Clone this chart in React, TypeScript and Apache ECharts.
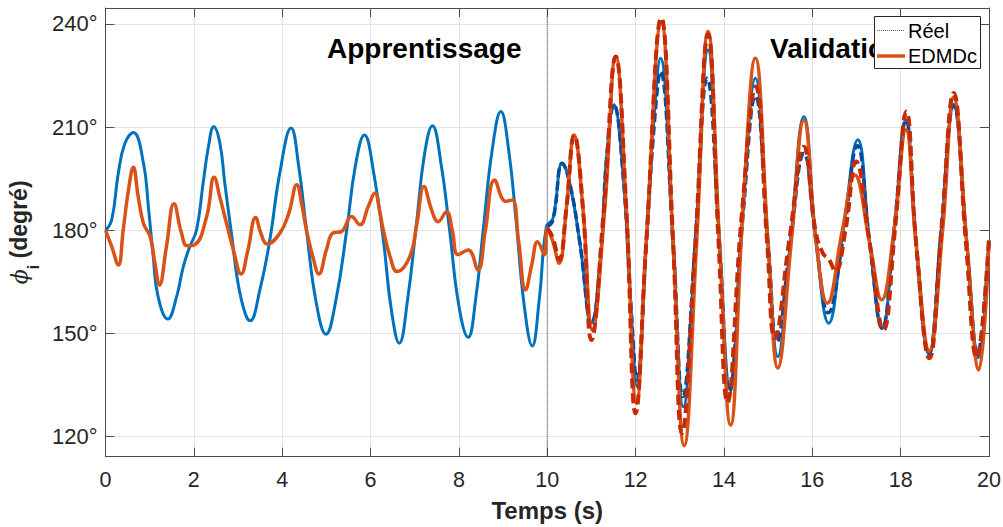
import React, { useEffect, useRef } from "react";
import * as echarts from "echarts";

// Angle phi_i (degrees) versus time (s): learning phase 0–10 s, validation phase 10–20 s.
const courbeBleue: [number, number][] = [
  [0, 180], [0.14, 183], [0.29, 196.6], [0.44, 205.3], [0.63, 208.4], [0.86, 199.5], [0.97, 186.9],
  [1.08, 172.4], [1.19, 160.7], [1.41, 154.2], [1.61, 160.7], [1.76, 169.4], [1.91, 175.3], [2.06, 180],
  [2.21, 193.7], [2.33, 204.3], [2.45, 210.1], [2.59, 205.3], [2.7, 193.7], [2.86, 178.2], [3.0, 164.6],
  [3.16, 155.9], [3.27, 153.7], [3.5, 163], [3.72, 177.2], [3.95, 197], [4.2, 209.7], [4.38, 198],
  [4.55, 180], [4.77, 159], [4.99, 149.8], [5.22, 160], [5.46, 180], [5.66, 199], [5.86, 207.7],
  [6.08, 196], [6.29, 177.2], [6.47, 157], [6.65, 147.2], [6.84, 160], [7.04, 182], [7.22, 202],
  [7.4, 210.4], [7.6, 199], [7.79, 180], [8.0, 158], [8.21, 148.9], [8.38, 160], [8.55, 180],
  [8.75, 203], [8.95, 214.5], [9.13, 203], [9.3, 182], [9.48, 158], [9.66, 146.4], [9.82, 160],
  [9.98, 181], [10.13, 183.5], [10.34, 199.5], [10.51, 193.7], [10.74, 176.2], [11.0, 153],
  [11.23, 176.2], [11.34, 200.5], [11.51, 216.5], [11.72, 195.6], [11.9, 156.9], [12.03, 134.6],
  [12.24, 176.2], [12.43, 215], [12.56, 230], [12.85, 176.2], [13.08, 128.7], [13.35, 176],
  [13.64, 232.4], [13.9, 176.2], [14.14, 134], [14.43, 186], [14.71, 224.2], [15.0, 176.2],
  [15.22, 143.3], [15.5, 176], [15.81, 213], [16.09, 176.2], [16.37, 153], [16.7, 180], [17.03, 206.3],
  [17.3, 176.2], [17.58, 151.5], [17.85, 180], [18.12, 212], [18.35, 176.2], [18.64, 144],
  [18.92, 180], [19.2, 216], [19.5, 176], [19.76, 143], [20, 177],
];

const courbeBleueTirets: [number, number][] = [
  [10, 181], [10.13, 183], [10.34, 199.5], [10.51, 193.7], [10.74, 176.2], [11.0, 153], [11.23, 176.2],
  [11.34, 200.5], [11.51, 216.5], [11.72, 195.6], [11.9, 156.9], [12.03, 136.5], [12.24, 176.2],
  [12.43, 212], [12.56, 226.1], [12.85, 176.2], [13.07, 131.7], [13.35, 176], [13.62, 224.2],
  [13.9, 176.2], [14.12, 133], [14.43, 184], [14.71, 219], [15.0, 176.2], [15.2, 147.6], [15.5, 176],
  [15.81, 202.4], [16.09, 176.2], [16.36, 156], [16.7, 178], [17.02, 204.6], [17.3, 176.2],
  [17.58, 151.5], [17.85, 180], [18.12, 212], [18.35, 176.2], [18.64, 144], [18.92, 180],
  [19.2, 216.5], [19.5, 176], [19.74, 144], [20, 177],
];

const courbeOrange: [number, number][] = [
  [0, 180], [0.14, 175.3], [0.29, 169.9], [0.4, 180], [0.52, 191.7], [0.63, 198.3], [0.74, 189.8],
  [0.86, 182], [1.01, 178.2], [1.12, 170.4], [1.22, 164.1], [1.38, 175.3], [1.55, 187.7], [1.72, 179.2],
  [1.85, 175.5], [2.02, 175.8], [2.29, 184], [2.46, 195.4], [2.6, 189], [2.74, 182], [2.9, 174],
  [3.07, 167.3], [3.22, 174], [3.4, 183.7], [3.52, 179], [3.66, 176], [3.95, 179.2], [4.15, 185],
  [4.33, 193.2], [4.45, 187], [4.55, 180], [4.7, 172], [4.83, 167.3], [5.0, 174.3], [5.15, 179.2],
  [5.34, 179.6], [5.57, 184], [5.76, 181.6], [5.95, 187], [6.1, 190.8], [6.2, 186], [6.29, 180],
  [6.45, 172], [6.6, 168], [6.89, 172.4], [7.05, 182], [7.21, 192.7], [7.38, 186], [7.53, 182.5],
  [7.72, 185.4], [7.85, 180], [7.98, 172.9], [8.21, 174.3], [8.43, 168.5], [8.6, 180], [8.81, 194.6],
  [9.06, 188.4], [9.21, 188.8], [9.35, 177], [9.51, 162.7], [9.65, 170], [9.78, 176.7], [9.94, 172.9],
  [10.0, 180.6], [10.12, 177], [10.27, 170.4], [10.43, 186], [10.61, 207.7], [10.81, 186],
  [11.02, 151], [11.3, 186], [11.55, 230.5], [11.79, 186], [12.02, 129.7], [12.24, 176.2],
  [12.58, 240.5], [12.85, 176.2], [13.1, 117.4], [13.38, 176], [13.64, 237.8], [13.9, 176.2],
  [14.15, 123.4], [14.43, 186], [14.71, 230], [15.0, 176.2], [15.22, 140], [15.52, 176], [15.81, 212],
  [16.09, 176.2], [16.34, 158.8], [16.68, 180], [16.96, 196.1], [17.3, 176.2], [17.57, 159.8],
  [17.85, 180], [18.12, 209.2], [18.35, 176.2], [18.65, 145], [18.95, 180], [19.2, 218.6], [19.5, 176],
  [19.77, 139.4], [20, 177],
];

const courbeRougeTirets: [number, number][] = [
  [10, 180.6], [10.12, 178], [10.27, 171.5], [10.43, 186], [10.61, 207.7], [10.81, 186], [11.0, 148.1],
  [11.28, 186], [11.55, 230.5], [11.79, 186], [12.0, 126.8], [12.24, 176.2], [12.58, 241.7],
  [12.85, 176.2], [13.05, 121], [13.35, 176], [13.64, 237], [13.88, 176], [14.08, 130], [14.4, 184],
  [14.72, 221.8], [14.98, 176], [15.15, 148.6], [15.49, 178.2], [15.81, 204.3], [16.07, 180],
  [16.24, 173.3], [16.38, 171.5], [16.52, 168], [16.75, 180], [16.99, 200], [17.3, 176.2],
  [17.61, 151], [17.87, 180], [18.13, 214.5], [18.35, 176.2], [18.65, 142.8], [18.92, 180],
  [19.2, 219.9], [19.48, 176], [19.72, 143], [20, 178],
];

// Axis extents and the boundary between the two phases
const tempsMin = 0;
const tempsMax = 20;
const tempsPas = 2;
const angleMin = 114.2;
const angleMax = 244.6;
const tempsSeparation = 10;
const separation: [number, number][] = [
  [tempsSeparation, angleMin],
  [tempsSeparation, angleMax],
];

const legendeNoms = ["Réel", "EDMDc"];

const FONT = "'Liberation Sans', Arial, Helvetica, sans-serif";
const AXE = "#4d4d4d";
const TEXTE = "#262626";
const GRILLE = "#e4e4e4";
const BLEU = "#0072BD";
const BLEU_FONCE = "#0A4A9C";
const ORANGE = "#D95319";
const ROUGE = "#C52C06";

export default function App() {
  const ref = useRef<HTMLDivElement>(null);

  useEffect(() => {
    if (!ref.current) return;
    const chart = echarts.init(ref.current, undefined, { renderer: "svg" });

    const boxAxisX = {
      type: "value" as const,
      min: tempsMin,
      max: tempsMax,
      interval: tempsPas,
      position: "top" as const,
      axisLine: { show: true, onZero: false, lineStyle: { color: AXE, width: 1 } },
      axisTick: { show: true, inside: true, length: 9, lineStyle: { color: AXE } },
      axisLabel: { show: false },
      splitLine: { show: false },
    };

    const boxAxisY = {
      type: "value" as const,
      min: angleMin,
      max: angleMax,
      splitNumber: 4,
      position: "right" as const,
      axisLine: { show: true, onZero: false, lineStyle: { color: AXE, width: 1 } },
      axisTick: { show: true, inside: true, length: 9, lineStyle: { color: AXE } },
      axisLabel: { show: false },
      splitLine: { show: false },
    };

    // Boxed legend in the upper right corner (dotted sample for the phase marker, solid for EDMDc)
    const legende = {
      type: "group",
      left: 874,
      top: 16,
      z: 10,
      children: [
        {
          type: "rect",
          shape: { x: 0.5, y: 0.5, width: 106, height: 52 },
          style: { fill: "#ffffff", stroke: TEXTE, lineWidth: 1 },
          z: 10,
        },
        {
          type: "line",
          shape: { x1: 3, y1: 14.5, x2: 31, y2: 14.5 },
          style: { stroke: "#6a6a6a", lineWidth: 1, lineDash: [1, 1] },
          z: 11,
        },
        {
          type: "text",
          x: 34,
          y: 14.5,
          style: {
            text: legendeNoms[0],
            font: `20px ${FONT}`,
            fill: "#000000",
            align: "left",
            verticalAlign: "middle",
          },
          z: 11,
        },
        {
          type: "line",
          shape: { x1: 3, y1: 40, x2: 31, y2: 40 },
          style: { stroke: ORANGE, lineWidth: 3.5 },
          z: 11,
        },
        {
          type: "text",
          x: 34,
          y: 40,
          style: {
            text: legendeNoms[1],
            font: `20px ${FONT}`,
            fill: "#000000",
            align: "left",
            verticalAlign: "middle",
          },
          z: 11,
        },
      ],
    };

    chart.setOption({
      animation: false,
      backgroundColor: "#ffffff",
      textStyle: { fontFamily: FONT },
      grid: { left: 105.5, right: 14, top: 8, bottom: 70.3, containLabel: false, outerBoundsMode: "none" },
      graphic: [
        {
          type: "text",
          x: 327,
          y: 48.5,
          z: 3,
          style: {
            text: "Apprentissage",
            font: `bold 28px ${FONT}`,
            fill: "#000000",
            align: "left",
            verticalAlign: "middle",
          },
        },
        {
          type: "text",
          x: 770,
          y: 48.5,
          z: 3,
          style: {
            text: "Validation",
            font: `bold 28px ${FONT}`,
            fill: "#000000",
            align: "left",
            verticalAlign: "middle",
          },
        },
        legende,
      ],
      xAxis: [
        {
          type: "value",
          min: tempsMin,
          max: tempsMax,
          interval: tempsPas,
          position: "bottom",
          name: "Temps (s)",
          nameLocation: "middle",
          nameGap: 42,
          nameTextStyle: { fontFamily: FONT, fontWeight: "bold", fontSize: 24, color: TEXTE },
          axisLine: { show: true, onZero: false, lineStyle: { color: AXE, width: 1 } },
          axisTick: { show: true, inside: true, length: 9, lineStyle: { color: AXE } },
          axisLabel: { fontFamily: FONT, fontSize: 21.5, color: TEXTE, margin: 12 },
          splitLine: { show: true, lineStyle: { color: GRILLE, width: 1 } },
        },
        boxAxisX,
      ],
      yAxis: [
        {
          type: "value",
          min: angleMin,
          max: angleMax,
          splitNumber: 4,
          position: "left",
          name: "{phi|ϕ}{sub|i}{deg| (degré)}",
          nameLocation: "middle",
          nameGap: 58,
          nameTextStyle: {
            color: TEXTE,
            rich: {
              phi: { fontFamily: "'DejaVu Serif', serif", fontStyle: "italic", fontSize: 22, lineHeight: 44, color: TEXTE },
              sub: { fontFamily: FONT, fontWeight: "bold", fontSize: 16, verticalAlign: "bottom", color: TEXTE },
              deg: { fontFamily: FONT, fontWeight: "bold", fontSize: 23, color: TEXTE },
            },
          },
          axisLine: { show: true, onZero: false, lineStyle: { color: AXE, width: 1 } },
          axisTick: { show: true, inside: true, length: 9, lineStyle: { color: AXE } },
          axisLabel: {
            fontFamily: FONT,
            fontSize: 22,
            color: TEXTE,
            margin: 8,
            showMinLabel: false,
            showMaxLabel: false,
            formatter: (v: number) => (Math.abs(v % 30) < 1e-6 ? `${v}°` : ""),
          },
          splitLine: { show: true, lineStyle: { color: GRILLE, width: 1 } },
        },
        boxAxisY,
      ],
      series: [
        {
          name: legendeNoms[0],
          type: "line",
          data: separation,
          symbol: "none",
          silent: true,
          lineStyle: { color: "#333333", width: 1, type: "dotted" },
          itemStyle: { color: "#333333" },
          z: 1,
        },
        {
          name: "Mesure",
          type: "line",
          data: courbeBleue,
          symbol: "none",
          smooth: 0.45,
          lineStyle: { color: BLEU, width: 3 },
          itemStyle: { color: BLEU },
          z: 2,
        },
        {
          name: "Mesure (tirets)",
          type: "line",
          data: courbeBleueTirets,
          symbol: "none",
          smooth: 0.45,
          lineStyle: { color: BLEU_FONCE, width: 3.5, type: [9, 4] },
          itemStyle: { color: BLEU_FONCE },
          z: 3,
        },
        {
          name: legendeNoms[1],
          type: "line",
          data: courbeOrange,
          symbol: "none",
          smooth: 0.45,
          lineStyle: { color: ORANGE, width: 3.5 },
          itemStyle: { color: ORANGE },
          z: 4,
        },
        {
          name: "EDMDc (tirets)",
          type: "line",
          data: courbeRougeTirets,
          symbol: "none",
          smooth: 0.45,
          lineStyle: { color: ROUGE, width: 4, type: [10, 5] },
          itemStyle: { color: ROUGE },
          z: 5,
        },
      ],
    });

    return () => chart.dispose();
  }, []);

  return (
    <div
      ref={ref}
      style={{ position: "fixed", left: 0, top: 0, width: 1003, height: 527, background: "#fff" }}
    />
  );
}
